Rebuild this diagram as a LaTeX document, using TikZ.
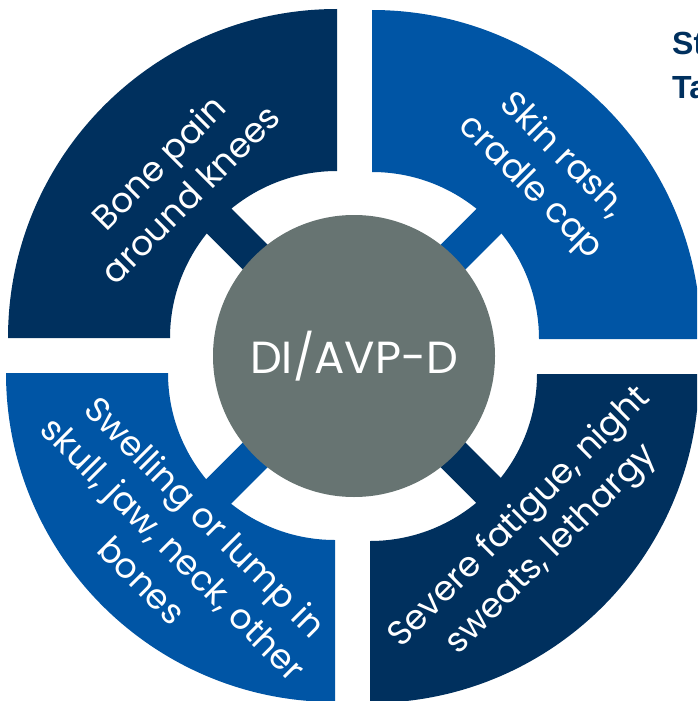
\documentclass[tikz,border=0pt]{standalone}
\usepackage{fontspec}
\newfontfamily\qfont{Poppins}
\newfontfamily\hfont{Liberation Sans}
\definecolor{navy}{HTML}{00305E}
\definecolor{midblue}{HTML}{0055A5}
\definecolor{hubgray}{HTML}{677472}
\begin{document}
\begin{tikzpicture}[x=1pt,y=-1pt,
  lbl/.style={text=white, font=\qfont\fontsize{34.5}{45}\selectfont, align=center, inner sep=0pt},
  spoke/.style={line width=35pt, line cap=butt},
  ttl/.style={anchor=base west, inner sep=0pt, text=navy, font=\hfont\bfseries\fontsize{32}{40}\selectfont}]
\useasboundingbox (0,0) rectangle (697,701);
\fill[white] (0,0) rectangle (697,701);
\clip (0,0) rectangle (697,701);
\coordinate (C) at (354,356);
% spokes
\draw[spoke, navy] (C) -- ++(225:240);
\draw[spoke, midblue] (C) -- ++(315:240);
\draw[spoke, midblue] (C) -- ++(135:240);
\draw[spoke, navy] (C) -- ++(45:240);
% quadrants
\fill[navy] (8,338) arc[start angle=180,end angle=270,radius=329] -- (337,171) arc[start angle=270,end angle=180,radius=167] -- cycle;
\fill[midblue] (372,10) arc[start angle=270,end angle=360,radius=329] -- (539,339) arc[start angle=360,end angle=270,radius=167] -- cycle;
\fill[midblue] (335,702) arc[start angle=90,end angle=180,radius=329] -- (168,373) arc[start angle=180,end angle=90,radius=167] -- cycle;
\fill[navy] (699,374) arc[start angle=0,end angle=90,radius=329] -- (370,541) arc[start angle=90,end angle=0,radius=167] -- cycle;
% hub
\node[circle, fill=hubgray, minimum size=282pt, inner sep=0pt, text=white, font=\qfont\fontsize{45}{50}\selectfont] (hub) at (C) {DI/AVP-D};
% labels
\node[lbl, rotate=45] (tl) at (174,178) {Bone pain\\around knees};
\node[lbl, rotate=-45] (tr) at (546,172) {Skin rash,\\cradle cap};
\node[lbl, rotate=-45] (bl) at (174,548) {Swelling or lump in\\skull, jaw, neck, other\\bones};
\node[lbl, rotate=45] (br) at (536,534) {Severe fatigue, night\\sweats, lethargy};
% heading (cut off)
\node[ttl] (st) at (672,55) {St};
\node[ttl] (ta) at (672,98) {Ta};
\end{tikzpicture}
\end{document}
